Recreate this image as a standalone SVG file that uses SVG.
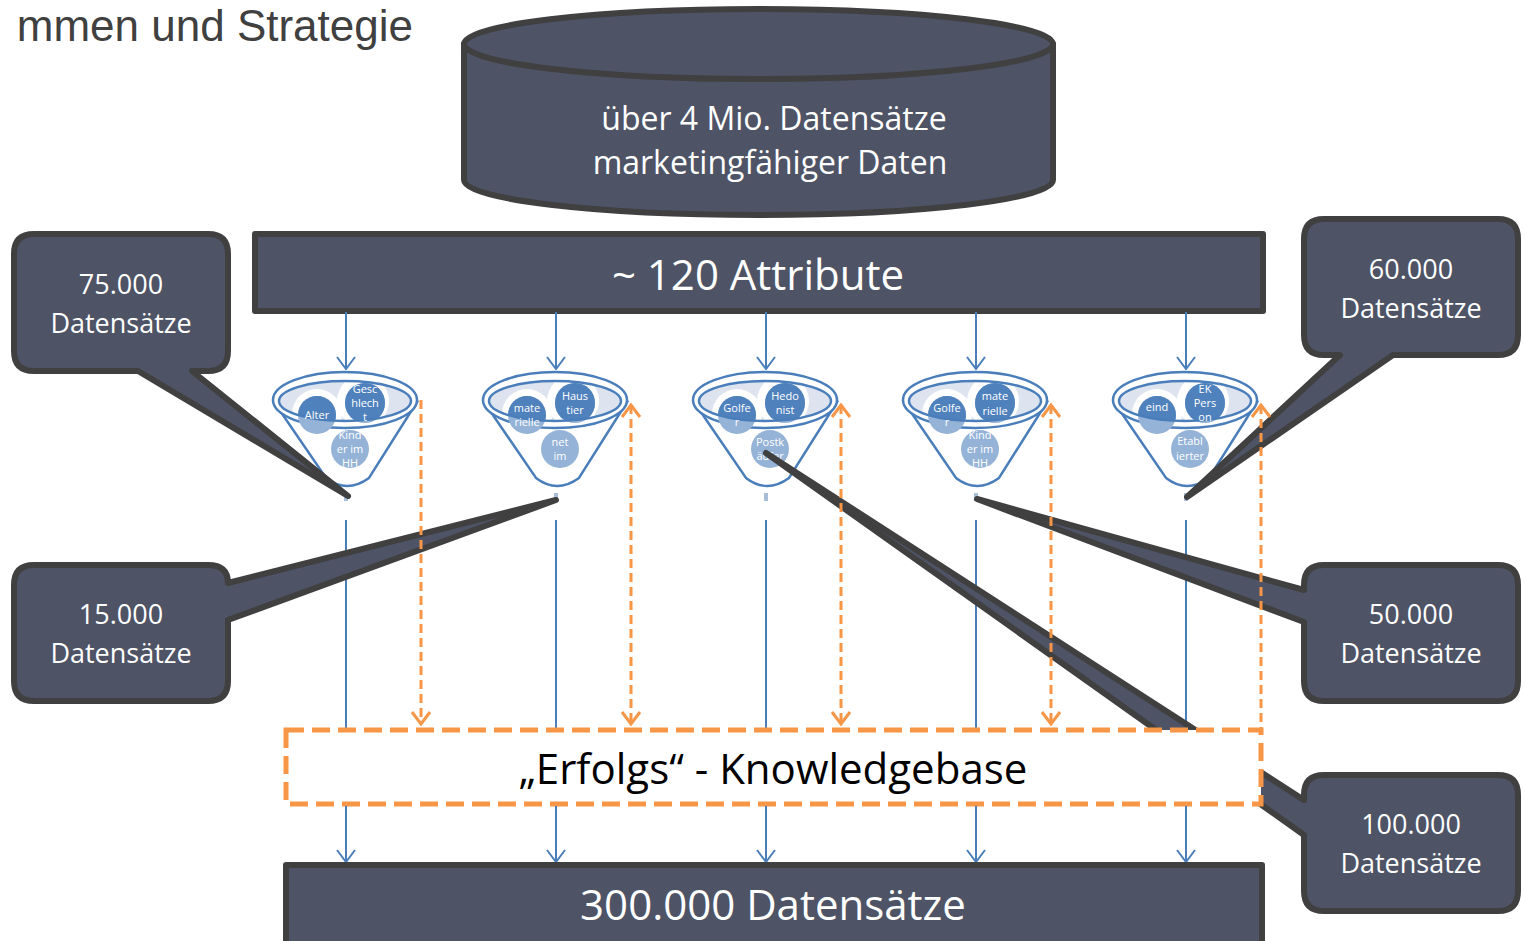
<svg xmlns="http://www.w3.org/2000/svg" width="1525" height="941" viewBox="0 0 1525 941">
<style>
.dk{fill:#4e5366;stroke:#404040;stroke-width:6;stroke-linejoin:round}
.wt{fill:#ffffff;font-family:"Open Sans","Liberation Sans",sans-serif;text-anchor:middle}
.co{font-size:27px}
.bl{stroke:#4a7ebb;stroke-width:2;fill:none}
.or{stroke:#f79646;stroke-width:3;fill:none;stroke-dasharray:9,5}
.fo{stroke:#4a7ebb;stroke-width:2.5}
.ct{fill:#ffffff;font-family:"Open Sans","Liberation Sans",sans-serif;font-size:11px;text-anchor:middle}
</style>
<defs>
<marker id="ab" viewBox="-1 -10 14 20" refX="12" refY="0" markerWidth="14" markerHeight="20" markerUnits="userSpaceOnUse" orient="auto-start-reverse">
<path d="M0,-9 L12,0 L0,9" fill="none" stroke="#4a7ebb" stroke-width="2"/>
</marker>
<marker id="ao" viewBox="-2 -11 16 22" refX="12" refY="0" markerWidth="16" markerHeight="22" markerUnits="userSpaceOnUse" orient="auto-start-reverse">
<path d="M0,-9 L12,0 L0,9" fill="none" stroke="#f79646" stroke-width="3"/>
</marker>
<clipPath id="cIn" clipPathUnits="userSpaceOnUse"><ellipse cx="-1" cy="401" rx="66" ry="20"/></clipPath>
<clipPath id="cA" clipPathUnits="userSpaceOnUse"><circle cx="-29" cy="415" r="19"/></clipPath>
<clipPath id="cB" clipPathUnits="userSpaceOnUse"><circle cx="19" cy="403" r="20"/></clipPath>
<clipPath id="cC" clipPathUnits="userSpaceOnUse"><circle cx="4" cy="449" r="19"/></clipPath>
<g id="fbody">
<path d="M-72,402 L-20,478 Q1,494 23,478 L71,402 Z" fill="#ffffff" class="fo"/>
<ellipse cx="-1" cy="400" rx="72" ry="28" fill="#ffffff" class="fo"/>
<ellipse cx="-1" cy="401" rx="66" ry="20" fill="#dde4ef"/>
<g clip-path="url(#cIn)" fill="#ffffff">
<circle cx="-29" cy="414" r="25"/>
<circle cx="17" cy="401" r="26"/>
</g>
<circle cx="-29" cy="415" r="19" fill="#95b3d7"/>
<circle cx="19" cy="403" r="20" fill="#95b3d7"/>
<g clip-path="url(#cIn)" fill="#4f81bd">
<circle cx="-29" cy="415" r="19"/>
<circle cx="19" cy="403" r="20"/>
</g>
<ellipse cx="-1" cy="401" rx="66" ry="20" fill="none" class="fo"/>
<circle cx="4" cy="449" r="19" fill="#95b3d7"/>
<rect x="-2" y="493" width="4" height="8" fill="#a9bedb"/>
</g>
</defs>

<text x="413" y="41" text-anchor="end" font-family="Liberation Sans, sans-serif" font-size="44" fill="#404040">mmen und Strategie</text>

<g id="cylinder">
<path class="dk" d="M464,44 V180 A294.5,35 0 0 0 1053,180 V44 Z"/>
<ellipse class="dk" cx="758.5" cy="44" rx="294.5" ry="35"/>
<text class="wt" x="774" y="130" font-size="32">über 4 Mio. Datensätze</text>
<text class="wt" x="770" y="174" font-size="32">marketingfähiger Daten</text>
</g>

<g id="attribute">
<rect class="dk" x="255" y="234" width="1008" height="77"/>
<text class="wt" x="758" y="290" font-size="42">~ 120 Attribute</text>
</g>

<g id="connectors">
<g class="bl">
<line x1="346" y1="312" x2="346" y2="369" marker-end="url(#ab)"/>
<line x1="556" y1="312" x2="556" y2="369" marker-end="url(#ab)"/>
<line x1="766" y1="312" x2="766" y2="369" marker-end="url(#ab)"/>
<line x1="976" y1="312" x2="976" y2="369" marker-end="url(#ab)"/>
<line x1="1186" y1="312" x2="1186" y2="369" marker-end="url(#ab)"/>
<line x1="346" y1="520" x2="346" y2="728"/>
<line x1="556" y1="520" x2="556" y2="728"/>
<line x1="766" y1="520" x2="766" y2="728"/>
<line x1="976" y1="520" x2="976" y2="728"/>
<line x1="1186" y1="520" x2="1186" y2="728"/>
</g>
</g>

<g id="funnel1" transform="translate(346,0)">
<use href="#fbody"/>
<g clip-path="url(#cA)"><text class="ct" x="-29" y="419">Alter</text></g>
<g clip-path="url(#cB)"><text class="ct" x="19" y="393">Gesc</text><text class="ct" x="19" y="407">hlech</text><text class="ct" x="19" y="421">t</text></g>
<g clip-path="url(#cC)"><text class="ct" x="4" y="439">Kind</text><text class="ct" x="4" y="453">er im</text><text class="ct" x="4" y="467">HH</text></g>
</g>
<g id="funnel2" transform="translate(556,0)">
<use href="#fbody"/>
<g clip-path="url(#cA)"><text class="ct" x="-29" y="412">mate</text><text class="ct" x="-29" y="426">rielle</text></g>
<g clip-path="url(#cB)"><text class="ct" x="19" y="400">Haus</text><text class="ct" x="19" y="414">tier</text></g>
<g clip-path="url(#cC)"><text class="ct" x="4" y="446">net</text><text class="ct" x="4" y="460">im</text></g>
</g>
<g id="funnel3" transform="translate(766,0)">
<use href="#fbody"/>
<g clip-path="url(#cA)"><text class="ct" x="-29" y="412">Golfe</text><text class="ct" x="-29" y="426">r</text></g>
<g clip-path="url(#cB)"><text class="ct" x="19" y="400">Hedo</text><text class="ct" x="19" y="414">nist</text></g>
<g clip-path="url(#cC)"><text class="ct" x="4" y="446">Postk</text><text class="ct" x="4" y="460">äufer</text></g>
</g>
<g id="funnel4" transform="translate(976,0)">
<use href="#fbody"/>
<g clip-path="url(#cA)"><text class="ct" x="-29" y="412">Golfe</text><text class="ct" x="-29" y="426">r</text></g>
<g clip-path="url(#cB)"><text class="ct" x="19" y="400">mate</text><text class="ct" x="19" y="415">rielle</text></g>
<g clip-path="url(#cC)"><text class="ct" x="4" y="439">Kind</text><text class="ct" x="4" y="453">er im</text><text class="ct" x="4" y="467">HH</text></g>
</g>
<g id="funnel5" transform="translate(1186,0)">
<use href="#fbody"/>
<g clip-path="url(#cA)"><text class="ct" x="-29" y="411">eind</text></g>
<g clip-path="url(#cB)"><text class="ct" x="19" y="393">EK</text><text class="ct" x="19" y="407">Pers</text><text class="ct" x="19" y="421">on</text></g>
<g clip-path="url(#cC)"><text class="ct" x="4" y="445">Etabl</text><text class="ct" x="4" y="460">ierter</text></g>
</g>

<g id="callout75">
<path class="dk" d="M34,234 H208 Q228,234 228,254 V351 Q228,371 208,371 H192 L348,496 L138,371 H34 Q14,371 14,351 V254 Q14,234 34,234 Z"/>
<text class="wt co" x="121" y="294">75.000</text>
<text class="wt co" x="121" y="333">Datensätze</text>
</g>
<g id="callout60">
<path class="dk" d="M1324,219 H1498 Q1518,219 1518,239 V335 Q1518,355 1498,355 H1393 L1187,497 L1340,355 H1324 Q1304,355 1304,335 V239 Q1304,219 1324,219 Z"/>
<text class="wt co" x="1411" y="279">60.000</text>
<text class="wt co" x="1411" y="318">Datensätze</text>
</g>
<g id="callout15">
<path class="dk" d="M34,565 H208 Q228,565 228,583 L556,500 L228,620 V681 Q228,701 208,701 H34 Q14,701 14,681 V585 Q14,565 34,565 Z"/>
<text class="wt co" x="121" y="624">15.000</text>
<text class="wt co" x="121" y="663">Datensätze</text>
</g>
<g id="callout50">
<path class="dk" d="M1324,565 H1498 Q1518,565 1518,585 V681 Q1518,701 1498,701 H1324 Q1304,701 1304,681 V622 L977,499 L1304,590 V585 Q1304,565 1324,565 Z"/>
<text class="wt co" x="1411" y="624">50.000</text>
<text class="wt co" x="1411" y="663">Datensätze</text>
</g>
<g id="callout100">
<path class="dk" d="M1324,775 H1498 Q1518,775 1518,795 V891 Q1518,911 1498,911 H1324 Q1304,911 1304,891 V835 L766,453 L1304,800 V795 Q1304,775 1324,775 Z"/>
<text class="wt co" x="1411" y="834">100.000</text>
<text class="wt co" x="1411" y="873">Datensätze</text>
</g>

<g id="feedback">
<line class="or" x1="421" y1="400" x2="421" y2="724" marker-end="url(#ao)"/>
<line class="or" x1="631" y1="405" x2="631" y2="724" marker-start="url(#ao)" marker-end="url(#ao)"/>
<line class="or" x1="841" y1="405" x2="841" y2="724" marker-start="url(#ao)" marker-end="url(#ao)"/>
<line class="or" x1="1051" y1="405" x2="1051" y2="724" marker-start="url(#ao)" marker-end="url(#ao)"/>
<line class="or" x1="1261" y1="405" x2="1261" y2="730" marker-start="url(#ao)"/>
</g>

<g id="knowledgebase">
<rect x="286" y="730" width="975" height="74" fill="#ffffff" stroke="#f79646" stroke-width="5" stroke-dasharray="18,8"/>
<text x="773" y="784" text-anchor="middle" font-family="Open Sans, Liberation Sans, sans-serif" font-size="42" fill="#000000">„Erfolgs“ - Knowledgebase</text>
</g>

<g id="connectors-bottom" class="bl">
<line x1="346" y1="806" x2="346" y2="862" marker-end="url(#ab)"/>
<line x1="556" y1="806" x2="556" y2="862" marker-end="url(#ab)"/>
<line x1="766" y1="806" x2="766" y2="862" marker-end="url(#ab)"/>
<line x1="976" y1="806" x2="976" y2="862" marker-end="url(#ab)"/>
<line x1="1186" y1="806" x2="1186" y2="862" marker-end="url(#ab)"/>
</g>

<g id="result">
<rect class="dk" x="286" y="865" width="976" height="86"/>
<text class="wt" x="773" y="920" font-size="42">300.000 Datensätze</text>
</g>
</svg>
